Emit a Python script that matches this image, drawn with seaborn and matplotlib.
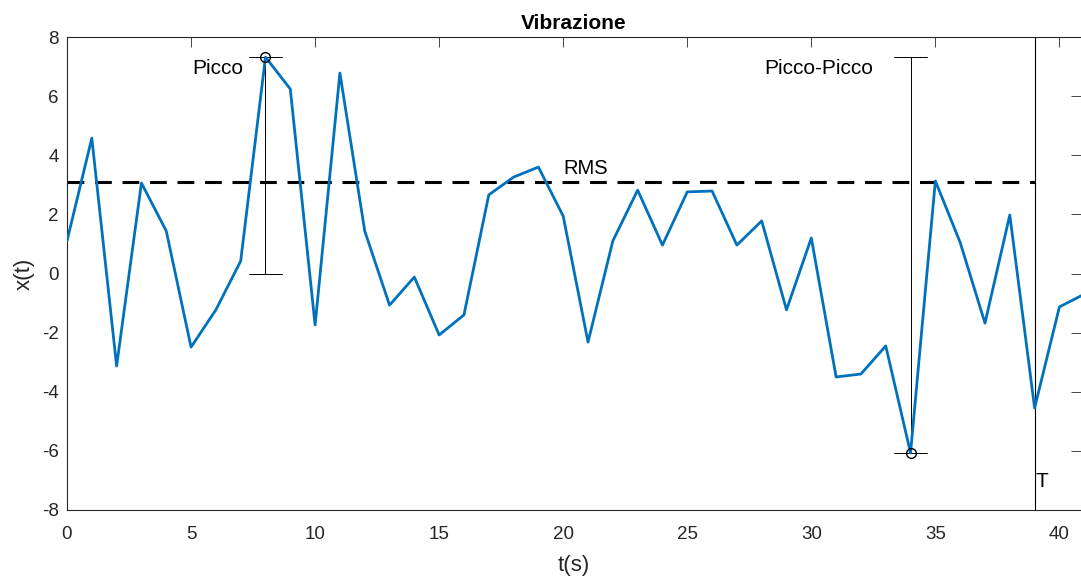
import numpy as np
import pandas as pd
import matplotlib
matplotlib.use("Agg")
import matplotlib.pyplot as plt
import seaborn as sns

# ---- data ----
t_vals = list(range(0, 42))
x_vals = [1.10, 4.58, -3.13, 3.06, 1.44, -2.49, -1.23, 0.42, 7.32, 6.24,
          -1.74, 6.78, 1.44, -1.07, -0.12, -2.08, -1.40, 2.66, 3.26, 3.60,
          1.94, -2.32, 1.10, 2.82, 0.96, 2.76, 2.79, 0.96, 1.78, -1.23,
          1.20, -3.50, -3.40, -2.45, -6.07, 3.13, 1.05, -1.68, 1.98, -4.55,
          -1.13, -0.70]
T_period = 39
peak_t = 8
trough_t = 34
x_ticks = [0, 5, 10, 15, 20, 25, 30, 35, 40]
y_ticks = [-8, -6, -4, -2, 0, 2, 4, 6, 8]
title_text = "Vibrazione"
xlabel_text = "t(s)"
ylabel_text = "x(t)"

df = pd.DataFrame({"t": t_vals, "x": x_vals})
xa = np.array(x_vals)
ta = np.array(t_vals)
rms = float(np.sqrt(np.mean(xa[ta <= T_period] ** 2)))
peak_val = float(xa[ta == peak_t][0])
trough_val = float(xa[ta == trough_t][0])

sns.set_theme(style="white")
plt.rcParams['font.family'] = ['Liberation Sans', 'DejaVu Sans']

fig = plt.figure(figsize=(10.81, 5.79), dpi=100)
ax = fig.add_axes([67 / 1081, 1 - 510 / 579, (1081 - 67) / 1081, (510 - 37) / 579])

sns.lineplot(data=df, x="t", y="x", ax=ax, color="#0072BD", linewidth=2.0, zorder=3)

# RMS dashed line
ax.plot([0, T_period], [rms, rms], color="black", linestyle=(0, (5.5, 3.5)), linewidth=2.2, zorder=2)
ax.text(20, rms + 0.15, "RMS", ha="left", va="bottom", fontsize=14.5, color="black")

# T vertical line
ax.axvline(T_period, color="black", linewidth=0.8, zorder=2)
ax.text(T_period + 0.03, -7.04, "T", ha="left", va="center", fontsize=15, color="black")

cap = 0.68
# Peak marker (0 -> peak)
ax.plot([peak_t, peak_t], [0, peak_val], color="black", linewidth=0.7)
for yv in (0, peak_val):
    ax.plot([peak_t - cap, peak_t + cap], [yv, yv], color="black", linewidth=0.7)
ax.plot([peak_t], [peak_val], marker="o", markersize=7, markerfacecolor="none",
        markeredgecolor="black", markeredgewidth=1.0, zorder=4)
ax.text(peak_t - 0.9, peak_val - 0.38, "Picco", ha="right", va="center", fontsize=15, color="black")

# Peak-to-peak marker
ax.plot([trough_t, trough_t], [trough_val, peak_val], color="black", linewidth=0.7)
for yv in (trough_val, peak_val):
    ax.plot([trough_t - cap, trough_t + cap], [yv, yv], color="black", linewidth=0.7)
ax.plot([trough_t], [trough_val], marker="o", markersize=7, markerfacecolor="none",
        markeredgecolor="black", markeredgewidth=1.0, zorder=4)
ax.text(trough_t - 1.5, peak_val - 0.38, "Picco-Picco", ha="right", va="center", fontsize=15, color="black")

ax.set_xlim(0, 40.87)
ax.set_ylim(-8, 8)
ax.set_xticks(x_ticks)
ax.set_yticks(y_ticks)
ax.set_xticklabels([str(v) for v in x_ticks])
ax.set_yticklabels([str(v) for v in y_ticks])
ax.tick_params(direction="in", length=7.5, width=0.6, colors="#262626", labelsize=13.5,
               top=True, right=True, labelcolor="#262626")
ax.tick_params(axis="x", pad=11.5)
ax.tick_params(axis="y", pad=6)
for s in ax.spines.values():
    s.set_color("#262626")
    s.set_linewidth(0.8)
ax.spines["right"].set_visible(False)

ax.set_title(title_text, fontsize=15, fontweight="bold", pad=6, color="black")
ax.set_xlabel(xlabel_text, fontsize=16, color="#262626", labelpad=9)
ax.set_ylabel(ylabel_text, fontsize=16, color="#262626", labelpad=5)

fig.savefig("out.png", dpi=100)
